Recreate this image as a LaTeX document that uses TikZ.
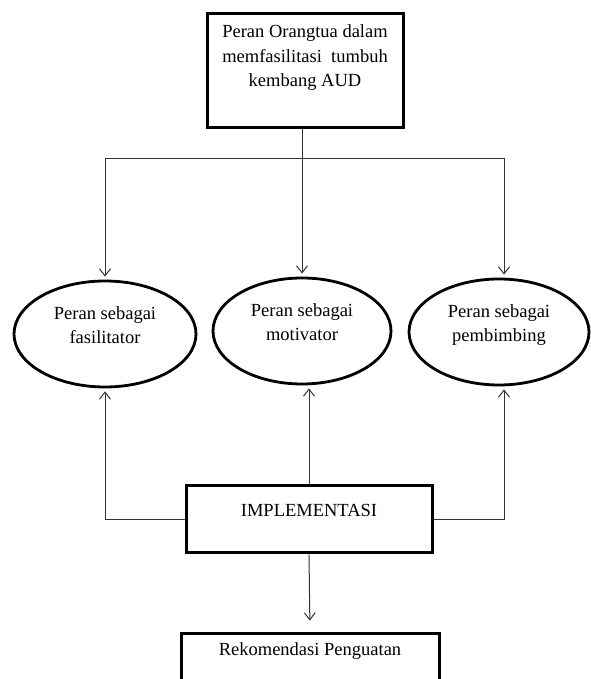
\documentclass[tikz,border=0pt]{standalone}
\usepackage{fontspec}
\setmainfont{Liberation Serif}
\usepackage{tikz}
\usetikzlibrary{arrows.meta,shapes.geometric}

\begin{document}
\begin{tikzpicture}[x=1pt,y=1pt,>={Straight Barb[length=7pt,width=11pt]},font=\fontsize{18.5}{24.5}\selectfont]
\tikzstyle{block}=[draw, line width=3pt, rectangle, align=center, inner sep=0pt]
\tikzstyle{role}=[draw, line width=2.8pt, ellipse, align=center, minimum height=106pt, text depth=18pt]
\tikzstyle{link}=[draw=black!80, line width=1pt]

\useasboundingbox (0,0) rectangle (590,679);

% top block
\node[block, minimum width=196pt, minimum height=114pt, text depth=30pt] (peran) at (305,608) {Peran Orangtua dalam\\memfasilitasi\ \ tumbuh\\kembang AUD};

% the three roles
\node[role, minimum width=182pt] (fasil) at (105,345) {Peran sebagai\\fasilitator};
\node[role, minimum width=178pt] (moti) at (302,348) {Peran sebagai\\motivator};
\node[role, minimum width=180pt] (bimb) at (499,347) {Peran sebagai\\pembimbing};

% implementation and recommendation
\node[block, minimum width=246pt, minimum height=67pt, text depth=19pt] (impl) at (309,159.5) {IMPLEMENTASI};
\node[block, minimum width=258pt, minimum height=70pt, text depth=40pt] (reko) at (310,10) {Rekomendasi Penguatan};

% arrows down to the roles
\coordinate (bar) at (302,520);
\draw[link] (bar |- peran.south) -- (bar);
\draw[link,->,shorten >=3pt] (bar) -- (moti.north);
\draw[link,->,shorten >=3pt] (bar) -| (fasil.north);
\draw[link,->,shorten >=3pt] (bar) -| ([xshift=5pt]bimb.north);

% arrows up from implementation
\draw[link,->,shorten >=3pt] (impl.west) -| (fasil.south);
\draw[link,->,shorten >=3pt] (impl.north) -- (impl.north |- moti.south);
\draw[link,->,shorten >=3pt] (impl.east) -| ([xshift=5pt]bimb.south);

% arrow to recommendation
\draw[link,->,shorten >=12pt] (impl.south) -- (reko.north);

\end{tikzpicture}
\end{document}
